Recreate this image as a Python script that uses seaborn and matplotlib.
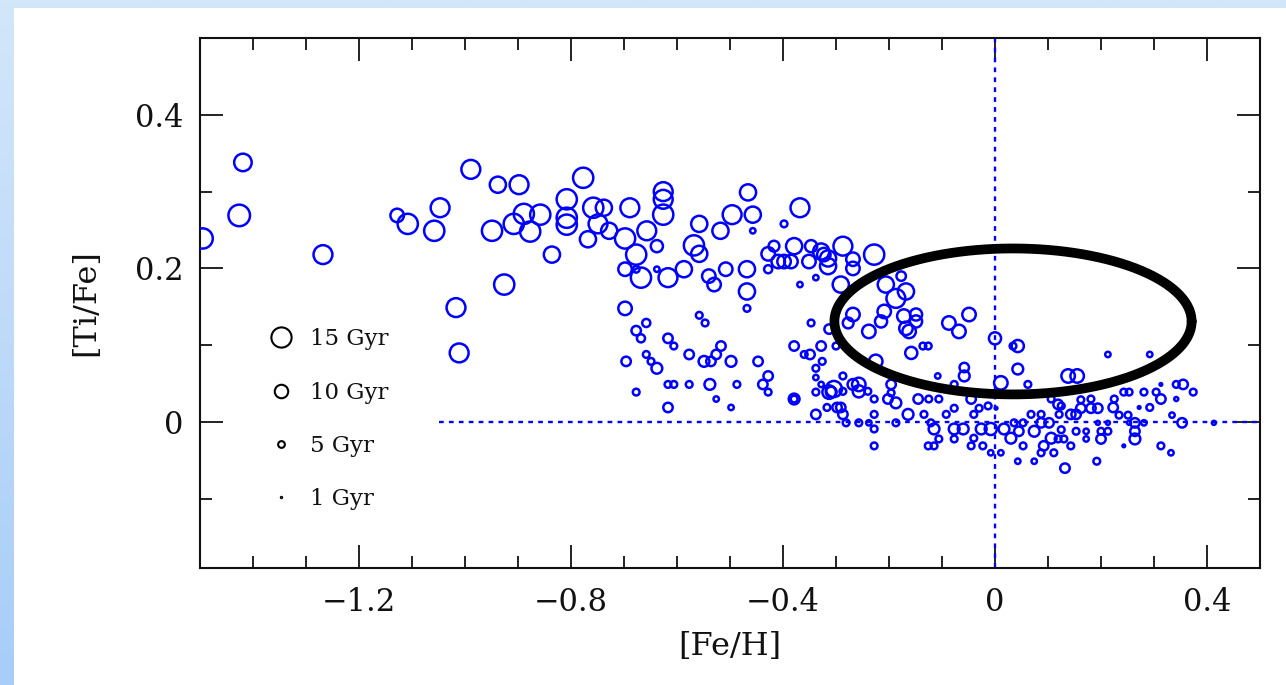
import numpy as np
import pandas as pd
import matplotlib
matplotlib.use("Agg")
import matplotlib.pyplot as plt
import seaborn as sns
from matplotlib.lines import Line2D
from matplotlib.patches import Rectangle
from matplotlib.colors import LinearSegmentedColormap
from matplotlib.ticker import MultipleLocator, FixedLocator

# ---------------------------------------------------------------- data
feh = [
    -1.495, -1.419, -1.426, -1.268, -1.128, -1.108, -1.047, -1.058, -1.017, -1.011,
    -0.989, -0.938, -0.898, -0.949, -0.908, -0.889, -0.858, -0.877, -0.836, -0.926,
    -0.777, -0.808, -0.808, -0.808, -0.758, -0.768, -0.738, -0.749, -0.728, -0.689,
    -0.698, -0.677, -0.657, -0.626, -0.626, -0.626, -0.638, -0.698, -0.677, -0.668,
    -0.638, -0.617, -0.587, -0.568, -0.558, -0.558, -0.518, -0.496, -0.466, -0.457,
    -0.457, -0.368, -0.398, -0.540, -0.530, -0.508, -0.468, -0.468, -0.468, -0.428,
    -0.417, -0.428, -0.409, -0.398, -0.379, -0.385, -0.347, -0.351, -0.328, -0.315,
    -0.315, -0.287, -0.291, -0.368, -0.338, -0.268, -0.228, -0.323, -0.268, -0.206,
    -0.177, -0.168, -0.187, -0.268, -0.277, -0.238, -0.215, -0.209, -0.172, -0.168,
    -0.149, -0.149, -0.162, -0.087, -0.068, -0.049, 0.000, -0.347, -0.313, -0.328,
    -0.300, -0.158, -0.136, -0.126, 0.043, 0.034, -0.698, -0.658, -0.677, -0.668,
    -0.696, -0.658, -0.649, -0.638, -0.677, -0.617, -0.606, -0.617, -0.606, -0.617,
    -0.577, -0.577, -0.558, -0.547, -0.549, -0.536, -0.526, -0.517, -0.538, -0.526,
    -0.498, -0.487, -0.498, -0.447, -0.438, -0.428, -0.428, -0.379, -0.379, -0.379,
    -0.360, -0.349, -0.326, -0.338, -0.338, -0.338, -0.313, -0.304, -0.309, -0.338,
    -0.317, -0.291, -0.281, -0.287, -0.287, -0.328, -0.268, -0.257, -0.257, -0.240,
    -0.228, -0.228, -0.228, -0.228, -0.238, -0.257, -0.287, -0.298, -0.187, -0.187,
    -0.164, -0.202, -0.196, -0.196, -0.108, -0.058, -0.058, -0.077, -0.145, -0.125,
    -0.106, -0.134, -0.121, -0.115, -0.106, -0.126, -0.115, -0.092, -0.077, -0.060,
    -0.045, -0.040, -0.026, -0.008, -0.045, -0.023, -0.077, -0.040, -0.008, -0.077,
    -0.030, -0.013, 0.043, 0.011, 0.138, 0.155, 0.213, 0.292, 0.313, 0.342,
    0.355, 0.374, 0.243, 0.253, 0.281, 0.304, 0.313, 0.342, 0.225, 0.292,
    0.272, 0.181, 0.181, 0.194, 0.162, 0.223, 0.234, 0.251, 0.334, 0.353,
    0.413, 0.264, 0.264, 0.264, 0.281, 0.253, 0.213, 0.194, 0.213, 0.200,
    0.200, 0.153, 0.172, 0.172, 0.153, 0.143, 0.125, 0.121, 0.102, 0.125,
    0.087, 0.087, 0.068, 0.053, 0.036, 0.017, 0.030, 0.045, 0.074, 0.106,
    0.092, 0.119, 0.130, 0.143, 0.111, 0.087, 0.053, 0.011, 0.043, 0.074,
    0.132, 0.192, 0.243, 0.313, 0.332, 0.119, 0.106, 0.162, 0.002, 0.062,
    -0.225,
]

tife = [
    0.239, 0.338, 0.269, 0.218, 0.269, 0.258, 0.279, 0.249, 0.149, 0.090,
    0.329, 0.309, 0.309, 0.249, 0.258, 0.271, 0.270, 0.248, 0.218, 0.179,
    0.318, 0.290, 0.266, 0.257, 0.279, 0.238, 0.279, 0.258, 0.249, 0.279,
    0.239, 0.218, 0.249, 0.300, 0.290, 0.270, 0.229, 0.199, 0.199, 0.188,
    0.199, 0.188, 0.199, 0.230, 0.258, 0.219, 0.249, 0.270, 0.299, 0.270,
    0.249, 0.279, 0.258, 0.190, 0.179, 0.199, 0.199, 0.170, 0.148, 0.219,
    0.229, 0.199, 0.209, 0.209, 0.229, 0.209, 0.229, 0.209, 0.222, 0.213,
    0.203, 0.229, 0.179, 0.179, 0.188, 0.212, 0.218, 0.218, 0.200, 0.179,
    0.190, 0.170, 0.161, 0.140, 0.129, 0.118, 0.131, 0.144, 0.138, 0.122,
    0.140, 0.131, 0.118, 0.129, 0.118, 0.140, 0.109, 0.129, 0.121, 0.099,
    0.099, 0.090, 0.099, 0.099, 0.099, 0.099, 0.148, 0.129, 0.119, 0.109,
    0.079, 0.088, 0.079, 0.070, 0.039, 0.109, 0.099, 0.049, 0.049, 0.019,
    0.088, 0.049, 0.139, 0.129, 0.079, 0.079, 0.088, 0.099, 0.049, 0.030,
    0.079, 0.049, 0.019, 0.079, 0.049, 0.060, 0.039, 0.099, 0.030, 0.030,
    0.088, 0.088, 0.079, 0.070, 0.058, 0.039, 0.039, 0.043, 0.039, 0.010,
    0.019, 0.019, -0.001, 0.060, 0.040, 0.049, 0.049, 0.049, 0.040, 0.040,
    0.030, 0.010, -0.009, -0.031, -0.001, -0.001, 0.010, 0.019, -0.001, 0.025,
    0.010, 0.030, 0.049, 0.038, 0.060, 0.071, 0.060, 0.049, 0.030, 0.030,
    0.030, 0.010, -0.001, -0.009, -0.022, -0.031, -0.031, 0.010, -0.009, -0.009,
    0.030, 0.010, -0.009, -0.009, -0.031, -0.031, -0.022, -0.021, -0.040, 0.018,
    0.018, 0.021, 0.069, 0.051, 0.060, 0.060, 0.088, 0.088, 0.049, 0.049,
    0.049, 0.039, 0.039, 0.039, 0.039, 0.039, 0.030, 0.030, 0.030, 0.019,
    0.019, 0.030, 0.018, 0.018, 0.018, 0.019, 0.009, 0.009, 0.009, -0.001,
    -0.001, -0.001, -0.012, -0.022, -0.001, -0.001, -0.001, -0.001, -0.012, -0.012,
    -0.022, -0.012, -0.012, -0.022, 0.010, 0.010, 0.021, 0.010, -0.001, -0.010,
    0.010, -0.001, 0.010, -0.001, -0.001, -0.009, -0.021, -0.012, -0.012, -0.021,
    -0.031, -0.022, -0.022, -0.031, -0.040, -0.040, -0.031, -0.040, -0.051, -0.051,
    -0.060, -0.051, -0.031, -0.031, -0.040, 0.023, 0.030, 0.029, 0.018, 0.049,
    0.079,
]

age_gyr = [
    15, 13, 16, 14, 10, 15, 14, 15, 14, 14,
    14, 12, 14, 15, 15, 15, 15, 15, 12, 15,
    15, 15, 15, 15, 15, 12, 12, 14, 12, 14,
    15, 15, 14, 14, 14, 15, 9, 10, 5, 15,
    4, 14, 12, 15, 12, 12, 12, 14, 12, 12,
    4, 14, 5, 10, 10, 10, 12, 12, 5, 10,
    8, 6, 10, 10, 12, 10, 9, 10, 12, 12,
    12, 14, 12, 4, 4, 10, 15, 10, 10, 12,
    7, 12, 14, 10, 8, 10, 9, 10, 10, 10,
    9, 9, 10, 10, 10, 10, 9, 5, 7, 7,
    5, 9, 5, 5, 9, 5, 10, 6, 7, 6,
    7, 5, 5, 8, 5, 7, 5, 5, 5, 7,
    7, 5, 5, 5, 8, 7, 7, 7, 8, 4,
    8, 5, 4, 7, 7, 7, 5, 7, 8, 5,
    5, 7, 5, 5, 4, 5, 10, 12, 8, 7,
    5, 7, 5, 5, 5, 4, 8, 10, 9, 5,
    5, 5, 5, 5, 4, 5, 7, 7, 5, 8,
    8, 7, 7, 5, 4, 7, 8, 5, 7, 5,
    5, 5, 5, 8, 5, 5, 5, 5, 8, 8,
    7, 5, 8, 9, 5, 5, 5, 5, 4, 5,
    5, 5, 8, 10, 10, 10, 4, 4, 2, 5,
    7, 5, 5, 5, 5, 5, 7, 3, 5, 5,
    2, 5, 7, 7, 7, 7, 5, 5, 4, 7,
    3, 7, 7, 8, 4, 3, 3, 3, 5, 5,
    7, 5, 4, 4, 7, 7, 5, 5, 7, 5,
    5, 7, 5, 5, 5, 8, 8, 7, 8, 8,
    7, 5, 5, 5, 5, 5, 5, 4, 4, 4,
    7, 5, 2, 5, 4, 7, 5, 5, 2, 5,
    10,
]

legend_ages = [15, 10, 5, 1]
legend_labels = ["15 Gyr", "10 Gyr", "5 Gyr", "1 Gyr"]

# locus of the model track: centre and semi-axes in ([Fe/H], [Ti/Fe])
track_center = (0.034, 0.131)
track_semi_axes = (0.337, 0.095)

x_ticks = [-1.2, -0.8, -0.4, 0.0, 0.4]
x_ticklabels = ["\u22121.2", "\u22120.8", "\u22120.4", "0", "0.4"]
y_ticks = [0.0, 0.2, 0.4]
y_ticklabels = ["0", "0.2", "0.4"]
zero_line_start = -1.05

# ---------------------------------------------------------------- style
sns.set_style("white")
plt.rcParams["font.family"] = ["DejaVu Serif"]
plt.rcParams["axes.unicode_minus"] = True

PT_PER_GYR = 0.97          # marker diameter (points) per Gyr
BLUE = "#0000ff"
INK = "#111111"

df = pd.DataFrame({"feh": feh, "tife": tife, "age": age_gyr})
size_map = {a: (PT_PER_GYR * a) ** 2 for a in sorted(set(age_gyr))}

W, H = 1286, 685
fig = plt.figure(figsize=(W / 100, H / 100), dpi=100)

# slide background: soft blue gradient frame with a white panel
bg = fig.add_axes([0, 0, 1, 1])
bg.set_axis_off()
grad = np.linspace(0, 1, 256).reshape(-1, 1)
cmap = LinearSegmentedColormap.from_list("frame", ["#d3e7fa", "#a7cdf8"])
bg.imshow(grad, aspect="auto", cmap=cmap, extent=[0, 1, 0, 1], origin="upper")
bg.add_patch(Rectangle((14 / W, 0), 1, (H - 8) / H, color="white", lw=0))
bg.set_xlim(0, 1)
bg.set_ylim(0, 1)

ax = fig.add_axes([200 / W, 117 / H, 1060 / W, 530 / H])
ax.set_facecolor("white")

sns.scatterplot(
    data=df, x="feh", y="tife", size="age", sizes=size_map,
    facecolors="none", edgecolor=BLUE, linewidth=1.8,
    legend=False, ax=ax, zorder=3,
)

# reference lines at solar values
ax.axvline(0.0, color=BLUE, lw=1.7, ls=(0, (2, 2.2)), zorder=2)
ax.hlines(0.0, zero_line_start, 0.5, color=BLUE, lw=1.7, ls=(0, (2, 2.2)), zorder=2)

# model track
t = np.linspace(0, 2 * np.pi, 500)
ex = track_center[0] + track_semi_axes[0] * np.cos(t)
ey = track_center[1] + track_semi_axes[1] * np.sin(t)
sns.lineplot(x=ex, y=ey, sort=False, estimator=None, color="black",
             lw=7, ax=ax, zorder=4)

ax.set_xlim(-1.5, 0.5)
ax.set_ylim(-0.19, 0.5)

ax.xaxis.set_major_locator(FixedLocator(x_ticks))
ax.set_xticklabels(x_ticklabels)
ax.xaxis.set_minor_locator(MultipleLocator(0.1))
ax.yaxis.set_major_locator(FixedLocator(y_ticks))
ax.set_yticklabels(y_ticklabels)
ax.yaxis.set_minor_locator(MultipleLocator(0.1))

ax.tick_params(which="both", direction="in", top=True, right=True,
               bottom=True, left=True, width=1.3, color=INK,
               labelcolor=INK, labelsize=22)
ax.tick_params(which="major", length=16.5, pad=12)
ax.tick_params(which="minor", length=8.5)
ax.tick_params(axis="x", which="major", pad=14)
for sp in ax.spines.values():
    sp.set_linewidth(1.5)
    sp.set_color(INK)

ax.set_xlabel("[Fe/H]", fontsize=23, labelpad=9, color=INK)
ax.set_ylabel("[Ti/Fe]", fontsize=23, labelpad=24, color=INK)

handles = [
    Line2D([], [], ls="none", marker="o", markersize=PT_PER_GYR * a,
           mfc="none", mec="black", mew=1.5)
    for a in legend_ages
]
leg = ax.legend(handles, legend_labels, loc="upper left",
                bbox_to_anchor=(0.063, 0.452), frameon=False, fontsize=16.5,
                labelspacing=1.36, handlelength=1.2, handletextpad=0.7,
                borderpad=0, borderaxespad=0)
for txt in leg.get_texts():
    txt.set_color(INK)

fig.savefig("out.png", dpi=100)
